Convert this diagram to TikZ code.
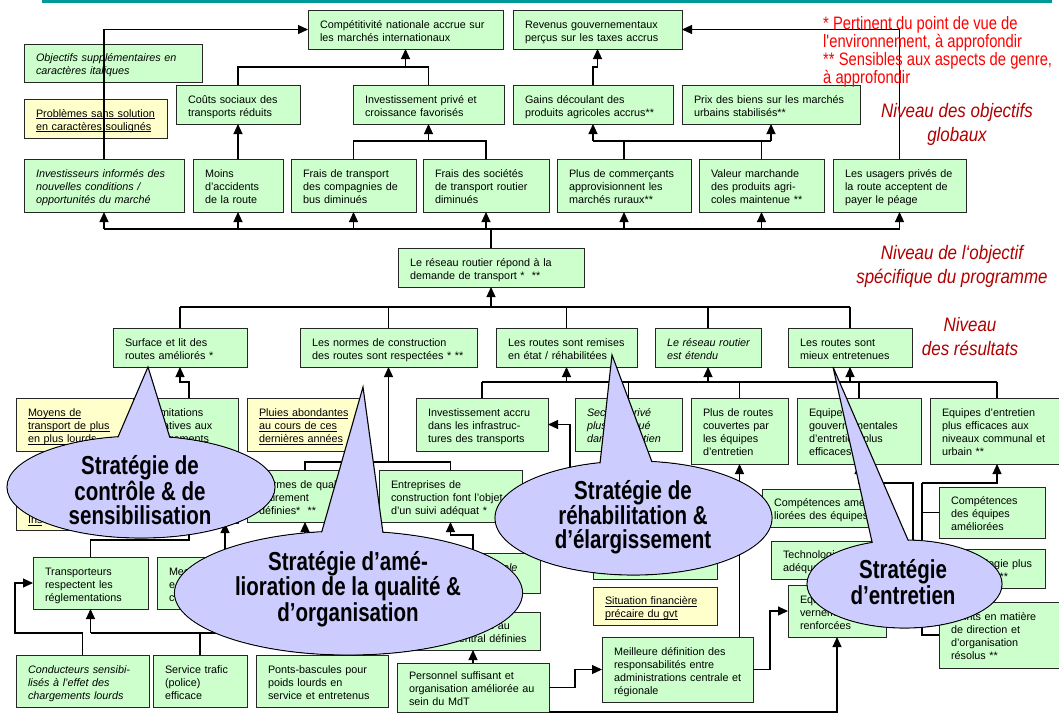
\documentclass[tikz,border=0pt]{standalone}
\usepackage{fontspec}
\setmainfont{Liberation Sans}
\newfontfamily\narrowfont[FakeStretch=0.82]{Liberation Sans}
\newfontfamily\levelfont[FakeStretch=0.87]{Liberation Sans}
\newfontfamily\stratfont[FakeStretch=0.79]{Liberation Sans}
\usetikzlibrary{arrows.meta}
\definecolor{boxgreen}{HTML}{CCFFCC}
\definecolor{boxyellow}{HTML}{FFFFCC}
\definecolor{ballfill}{HTML}{CCCCFF}
\definecolor{rulecol}{HTML}{009999}
\definecolor{notered}{HTML}{FF0000}
\definecolor{levelred}{HTML}{B00000}

% underline sitting just below the baseline
\newcommand\ulx[1]{\leavevmode\setbox0\hbox{#1}\rlap{\rule[-1.7pt]{\wd0}{0.6pt}}\box0}

% \bx[style]{name}{x1}{y1}{x2}{y2}{text} : box given by its corners,
% text set line by line (lines never rewrap), block lowered a little
\newcommand\bx[7][]{%
  \pgfmathsetmacro\bxW{#5-#3}%
  \pgfmathsetmacro\bxH{#6-#4}%
  \pgfmathsetmacro\bxT{#5-#3-24}%
  \node[box,#1,minimum width=\bxW pt,minimum height=\bxH pt,text width=\bxT pt] (#2) at (#3,#4)
    {\begin{tabular}{@{}l@{}}\rule{0pt}{14pt}#7\end{tabular}};}

\begin{document}
\begin{tikzpicture}[x=1pt,y=-1pt,
  box/.style={draw=black!85,line width=1pt,fill=boxgreen,anchor=north west,
    inner xsep=12pt,inner ysep=0pt,outer sep=0pt,align=left,
    font=\fontsize{10.8}{13}\selectfont},
  yel/.style={fill=boxyellow},
  ital/.style={font=\fontsize{10.8}{13}\selectfont\itshape},
  link/.style={line width=1.1pt,draw=black},
  arr/.style={link,-{Triangle[length=10pt,width=9pt]}},
  balline/.style={draw=black,line width=1.1pt},
  balfill/.style={fill=ballfill},
  strat/.style={font=\stratfont\bfseries\fontsize{26}{23.5}\selectfont,align=center,inner sep=0pt},
  level/.style={font=\levelfont\itshape\fontsize{19.5}{24}\selectfont,text=levelred,align=center,inner sep=0pt}]

\useasboundingbox (0,0) rectangle (1059,713);
\clip (0,0) rectangle (1059,713);
\fill[white] (0,0) rectangle (1059,713);

% title rule
\draw[rulecol,line width=3pt] (42,1.5) -- (1052,1.5);

% ---------- overall objectives ----------
\bx{compet}{308}{10}{503}{49}{Compétitivité nationale accrue sur\\les marchés internationaux}
\bx{revenus}{513}{10}{682}{49}{Revenus gouvernementaux\\perçus sur les taxes accrus}
\bx[ital]{objsup}{24}{44}{202}{82}{Objectifs supplémentaires en\\caractères italiques}
\bx[yel]{probsol}{24}{99}{167}{138}{\ulx{Problèmes sans solution}\\\ulx{en caractères soulignés}}
\bx{couts}{176}{85}{300}{124}{Coûts sociaux des\\transports réduits}
\bx{invP}{353}{85}{504}{124}{Investissement privé et\\croissance favorisés}
\bx{gains}{513}{85}{673}{124}{Gains découlant des\\produits agricoles accrus**}
\bx{prix}{682}{85}{860}{124}{Prix des biens sur les marchés\\urbains stabilisés**}

\bx[ital]{investis}{24}{159}{184}{212}{Investisseurs informés des\\nouvelles conditions /\\opportunités du marché}
\bx{moins}{193}{159}{283}{212}{Moins\\d'accidents\\de la route}
\bx{fraisT}{291}{159}{416}{212}{Frais de transport\\des compagnies de\\bus diminués}
\bx{fraisS}{423}{159}{549}{212}{Frais des sociétés\\de transport routier\\diminués}
\bx{plusC}{557}{159}{691}{212}{Plus de commerçants\\approvisionnent les\\marchés ruraux**}
\bx{valeur}{699}{159}{824}{212}{Valeur marchande\\des produits agri-\\coles maintenue **}
\bx{usagers}{833}{159}{966}{212}{Les usagers privés de\\la route acceptent de\\payer le péage}

% ---------- programme purpose ----------
\bx{reseau}{398}{248}{584}{287}{Le réseau routier répond à la\\demande de transport * \ **}

% ---------- results ----------
\bx{surface}{113}{328}{247}{367}{Surface et lit des\\routes améliorés *}
\bx{normesC}{300}{328}{477}{367}{Les normes de construction\\des routes sont respectées * **}
\bx{remises}{496}{328}{637}{367}{Les routes sont remises\\en état / réhabilitées}
\bx[ital]{etendu}{655}{328}{761}{367}{Le réseau routier\\est étendu}
\bx{mieux}{788}{328}{912}{367}{Les routes sont\\mieux entretenues}

% ---------- activities ----------
\bx[yel]{moyens}{16}{398}{133}{451}{\ulx{Moyens de}\\\ulx{transport de plus}\\\ulx{en plus lourds}}
\bx{limit}{140}{398}{238}{451}{\hspace*{8pt}mitations\\\hspace*{11pt}atives aux\\\hspace*{12pt}rgements}
\bx[yel]{pluies}{247}{398}{363}{451}{\ulx{Pluies abondantes}\\\ulx{au cours de ces}\\\ulx{dernières années}}
\bx{investA}{416}{398}{548}{451}{Investissement accru\\dans les infrastruc-\\tures des transports}
\bx[ital]{secteur}{575}{398}{682}{451}{Secteur privé\\plus impliqué\\dans l'entretien}
\bx{plusR}{691}{398}{788}{464}{Plus de routes\\couvertes par\\les équipes\\d'entretien}
\bx{eqGouv}{797}{398}{921}{464}{Equipes\\gouvernementales\\d'entretien plus\\efficaces}
\bx{communal}{930}{398}{1064}{464}{Equipes d'entretien\\plus efficaces aux\\niveaux communal et\\urbain **}

\bx[yel]{insuf}{16}{468}{133}{530}{\mbox{}\\\mbox{}\\\mbox{}\\\ulx{Ins}}
\bx{hidA}{140}{468}{238}{523}{}
\bx{normQ}{247}{470}{363}{522}{Normes de qualité\\clairement\\définies* \ **}
\bx{ent}{379}{470}{522}{522}{Entreprises de\\construction font l'objet\\d'un suivi adéquat *}
\bx{compAm}{762}{489}{869}{527}{Compétences amé-\\liorées des équipes}
\bx{compEq}{939}{487}{1045}{538}{Compétences\\des équipes\\améliorées}
\bx{hidB}{593}{527}{717}{579}{}
\bx{techAd}{771}{541}{895}{579}{Technologie\\adéquate}
\bx{techPlus}{939}{549}{1045}{588}{Technologie plus\\adéquate **}
\bx{ale}{406}{553}{540}{593}{\hspace*{85pt}\textit{ale}\\\mbox{}}
\bx{transp}{33}{557}{148}{609}{Transporteurs\\respectent les\\réglementations}
\bx{mes}{157}{557}{293}{609}{Mes\\e\\c}
\bx{eff}{788}{585}{886}{637}{Equipes gou-\\vernementales\\renforcées}
\bx[yel]{situation}{593}{587}{717}{625}{\ulx{Situation financière}\\\ulx{précaire du gvt}}
\bx{points}{939}{602}{1064}{668}{Points en matière\\de direction et\\d'organisation\\résolus **}
\bx{respAu}{406}{612}{540}{650}{Responsabilités au\\niveau central définies}
\bx{meil}{602}{637}{753}{702}{Meilleure définition des\\responsabilités entre\\administrations centrale et\\régionale}
\bx[ital]{cond}{16}{655}{149}{707}{Conducteurs sensibi-\\lisés à l'effet des\\chargements lourds}
\bx{serv}{153}{655}{247}{707}{Service trafic\\(police)\\efficace}
\bx{ponts}{256}{655}{388}{707}{Ponts-bascules pour\\poids lourds en\\service et entretenus}
\bx{pers}{397}{663}{549}{712}{Personnel suffisant et\\organisation améliorée au\\sein du MdT}

% ---------- connectors, top part ----------
\draw[arr] (investis.north) |- (compet.west);
\draw[arr] (usagers.north) |- (revenus.east);
\coordinate (jA) at (405.5,67);
\draw[link] (couts.north) |- (jA) -| (invP.north);
\draw[arr] (jA) -- (compet.south);
\coordinate (jB) at (revenus.south |- jA);
\draw[arr] (gains.north) |- (jB) -- (revenus.south);
\draw[arr] (moins.north) -- (couts.south);
\coordinate (jC) at (invP.south |- 0,141);
\draw[link] (fraisT.north) |- (jC) -| (fraisS.north);
\draw[arr] (jC) -- (invP.south);
\coordinate (jD) at (gains.south |- 0,141);
\coordinate (jE) at (prix.south |- 0,141);
\draw[link] (jD) -- (jE);
\draw[arr] (jD) -- (gains.south);
\draw[arr] (jE) -- (prix.south);
\draw[link] (plusC.north) -- (plusC.north |- jD);
\draw[link] (valeur.north) -- (valeur.north |- jD);

\coordinate (busA) at (investis.south |- 0,229);
\coordinate (busB) at (usagers.south |- 0,229);
\draw[link] (busA) -- (busB);
\foreach \n in {investis,moins,fraisT,fraisS,plusC,valeur,usagers}
  \draw[arr] (\n.south |- busA) -- (\n.south);
\draw[link] (reseau.north |- busA) -- (reseau.north);

\coordinate (busC) at (surface.north |- 0,307);
\coordinate (busD) at (mieux.north |- 0,307);
\draw[link] (busC) -- (busD);
\foreach \n in {surface,normesC,remises,etendu,mieux}
  \draw[link] (\n.north) -- (\n.north |- busC);
\draw[arr] (reseau.south |- busC) -- (reseau.south);

\coordinate (busE) at (investA.north |- 0,382);
\coordinate (busF) at (communal.north |- 0,382);
\draw[link] (busE) -- (busF);
\foreach \n in {investA,secteur,plusR,eqGouv,communal}
  \draw[link] (\n.north) -- (\n.north |- busE);
\foreach \n in {remises,etendu,mieux}
  \draw[arr] (\n.south |- busE) -- (\n.south);

% ---------- connectors, lower part ----------
\draw[arr] (limit.north) -- ++(0,-16) -| (surface.south);
\coordinate (jF) at (normesC.south |- 0,462);
\draw[link] (normQ.north) |- (jF) -| (ent.north);
\draw[arr] (jF) -- (normesC.south);
\draw[arr] (ale.north) -- ++(0,-18) -| (ent.south);
\draw[arr] (pers.north) -- (respAu.south);
\draw[arr] (pers.east) -- ++(26,0) |- (meil.west);
\draw[arr] (meil.east) -- ++(17,0) |- (eff.west);
\draw[arr] (pers.south east) -| (eff.south);
\draw[arr] (meil.north -| plusR.south) -- (plusR.south);
\draw[arr] (hidB.west) -- ++(-23,0) |- (investA.east);

\coordinate (jG) at (transp.south |- 0,633);
\draw[arr] (jG) -- (transp.south);
\draw[link] (jG) -| (ponts.north);
\draw[link] (serv.north) -- (serv.north |- jG);
\coordinate (jH) at (15,633);
\draw[arr] (cond.north) |- (jH) |- (transp.west);
\draw[arr] (transp.north) -- ++(0,-17) -| (hidA.south);
\draw[arr] (mes.north) -- (mes.north |- hidA.south);
\draw[arr] (mes.east) -| (normQ.south);

\coordinate (sM) at (913,483);
\coordinate (sL) at (883,483);
\coordinate (sR) at (922,483);
\draw[arr] (sL) -| (eqGouv.south);
\draw[link] (sL) -- (sM) |- (eff.east);
\draw[link] (compAm.east) -| (sL);
\draw[link] (techAd.east) -- (techAd.east -| sM);
\draw[arr] (sR) -| (communal.south);
\draw[link] (sR) |- (points.west);
\draw[link] (compEq.west) -- (compEq.west -| sR);
\draw[link] (techPlus.west) -- (techPlus.west -| sR);

% ---------- notes and level labels ----------
\node[anchor=north west,align=left,inner sep=0pt,text=notered,
  font=\narrowfont\fontsize{18}{16.7}\selectfont] (notes) at (823,16)
  {* Pertinent du point de vue de\\l'environnement, à approfondir\\** Sensibles aux aspects de genre,\\à approfondir};
\node[level] (lvlA) at (957,124) {Niveau des objectifs\\globaux};
\node[level] (lvlB) at (952,266) {Niveau de l‘objectif\\spécifique du programme};
\node[level] (lvlC) at (970,337) {Niveau\\des résultats};

% ---------- strategy balloons ----------
% control & awareness
\filldraw[balfill,balline] (141,487) ellipse (134 and 51);
\fill[balfill] (113.5,447.5) -- (148,367) -- (173.3,448.6) -- cycle;
\draw[balline] (113.5,447.5) -- (148,367) -- (173.3,448.6);
\fill[balfill] (141,487) ellipse (133.3 and 50.3);
\node[strat] (stA) at (140,490) {Stratégie de\\contrôle \& de\\sensibilisation};

% quality & organisation
\filldraw[balfill,balline] (348.5,593) ellipse (174 and 62);
\fill[balfill] (318.7,542.5) -- (363,387) -- (384.6,544.7) -- cycle;
\draw[balline] (318.7,542.5) -- (363,387) -- (384.6,544.7);
\fill[balfill] (348.5,593) ellipse (173.3 and 61.3);
\node[strat] (stB) at (348,589) {Stratégie d’amé-\\lioration de la qualité \&\\d’organisation};

% rehabilitation & widening
\filldraw[balfill,balline] (633.5,518) ellipse (138.5 and 57);
\fill[balfill] (599.2,470.6) -- (612,355) -- (654.8,469.5) -- cycle;
\draw[balline] (599.2,470.6) -- (612,355) -- (654.8,469.5);
\fill[balfill] (633.5,518) ellipse (137.8 and 56.3);
\node[strat] (stC) at (633,517) {Stratégie de\\réhabilitation \&\\d’élargissement};

% maintenance
\filldraw[balfill,balline] (904.5,584) ellipse (97.5 and 44);
\fill[balfill] (874,550.8) -- (833,367) -- (911.8,548.7) -- cycle;
\draw[balline] (874,550.8) -- (833,367) -- (911.8,548.7);
\fill[balfill] (904.5,584) ellipse (96.8 and 43.3);
\node[strat] (stD) at (903,582) {Stratégie\\d’entretien};

\end{tikzpicture}
\end{document}
